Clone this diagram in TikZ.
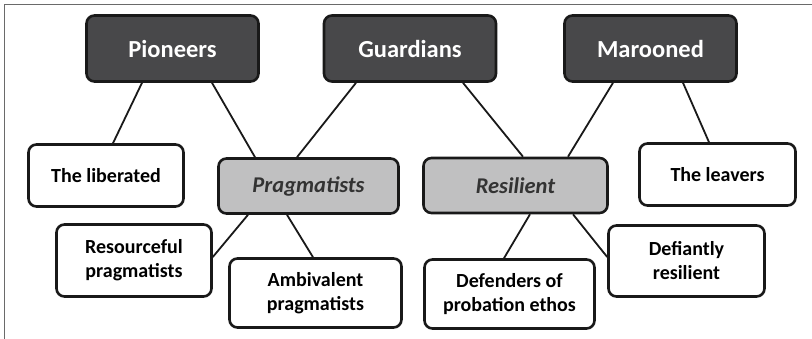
\documentclass[tikz,border=0pt]{standalone}
\usepackage{fontspec}
\setmainfont{Carlito}
\usetikzlibrary{calc}
\definecolor{topfill}{HTML}{48484A}
\definecolor{midfill}{HTML}{C0C0C1}
\definecolor{framegray}{HTML}{6A6A6A}

\begin{document}
\begin{tikzpicture}[x=1pt, y=-1pt,
    box/.style={draw=black!90, line width=2.6pt, rounded corners=8pt, align=center,
      font=\bfseries\fontsize{20}{24}\selectfont},
    top/.style={box, fill=topfill, text=white, minimum width=172pt, minimum height=66pt,
      font=\bfseries\fontsize{24.5}{29}\selectfont},
    mid/.style={box, fill=midfill, text=black!80, minimum height=55pt,
      font=\bfseries\itshape\fontsize{22.5}{27}\selectfont},
    sub/.style={box, fill=white},
    link/.style={line width=1.8pt, black!90}]
    \useasboundingbox (0,0) rectangle (812,339);
    \draw[framegray, line width=1.2pt] (4.5,339) -- (4.5,4.5) -- (812,4.5);
    \node[top] (Pio) at (172.5,48.5) {Pioneers};
    \node[top] (Gua) at (410,48.5) {Guardians};
    \node[top] (Mar) at (650.5,48.5) {Marooned};
    \node[mid, minimum width=180pt] (Prag) at (308.5,186) {Pragmatists};
    \node[mid, minimum width=184pt] (Res) at (515.5,185.5) {Resilient};
    \node[sub, minimum width=155pt, minimum height=62pt] (Lib) at (106,175.5) {The liberated};
    \node[sub, minimum width=156pt, minimum height=62pt] (Lea) at (717.5,174.5) {The leavers};
    \node[sub, minimum width=155pt, minimum height=72pt] (Rsc) at (134,260.5) {Resourceful\\pragmatists};
    \node[sub, minimum width=172pt, minimum height=69pt] (Amb) at (315.5,293) {Ambivalent\\pragmatists};
    \node[sub, minimum width=170pt, minimum height=69pt] (Def) at (509.5,294) {Defenders of\\probation ethos};
    \node[sub, minimum width=156pt, minimum height=71pt] (Dfy) at (686.5,261) {Defiantly\\resilient};
    \draw[link] ([xshift=-30.5pt]Pio.south) -- ([xshift=7pt]Lib.north);
    \draw[link] ([xshift=39.5pt]Pio.south) -- ([xshift=-53.5pt]Prag.north);
    \draw[link] ([xshift=-54pt]Gua.south) -- ([xshift=-11.5pt]Prag.north);
    \draw[link] ([xshift=53pt]Gua.south) -- ([xshift=7.5pt]Res.north);
    \draw[link] ([xshift=-37.5pt]Mar.south) -- ([xshift=52.5pt]Res.north);
    \draw[link] ([xshift=32.5pt]Mar.south) -- ([xshift=-8.5pt]Lea.north);
    \draw[link] ([xshift=-60.5pt]Prag.south) -- ([yshift=3.5pt]Rsc.east);
    \draw[link] ([xshift=-21.5pt]Prag.south) -- ([xshift=-2.5pt]Amb.north);
    \draw[link] ([xshift=14.5pt]Res.south) -- ([xshift=-5.5pt]Def.north);
    \draw[link] ([xshift=57.5pt]Res.south) -- ([yshift=4pt]Dfy.west);
\end{tikzpicture}
\end{document}
